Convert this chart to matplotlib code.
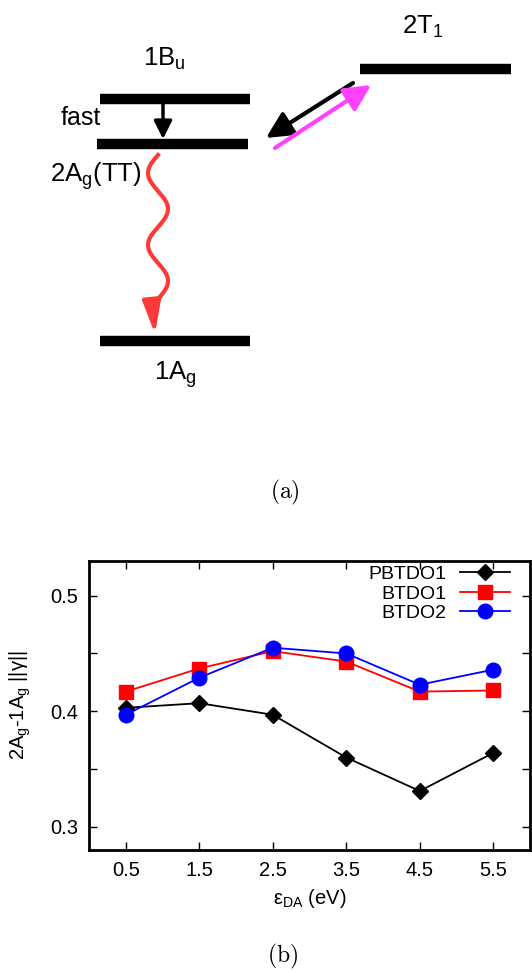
"""
Energy-level scheme (a) and 2Ag-1Ag ||gamma|| versus eps_DA (b)
"""

import matplotlib
matplotlib.use("Agg")
import matplotlib.pyplot as plt
import numpy as np

plt.rcParams['font.family'] = ['Liberation Sans', 'DejaVu Sans']

# ---- panel (a): level scheme (pixel units of the top half) ----
level_names = ['1B$_\\mathregular{u}$', '2A$_\\mathregular{g}$(TT)', '1A$_\\mathregular{g}$', '2T$_\\mathregular{1}$']
level_x0 = [100, 97, 100, 360]
level_x1 = [250, 248, 250, 511]
level_y = [99, 144, 341, 69]
label_x = [164, 96, 175, 423]
label_y = [66, 182, 379, 34]

# ---- panel (b): data ----
eps_da = [0.5, 1.5, 2.5, 3.5, 4.5, 5.5]
pbtdo1 = [0.403, 0.407, 0.397, 0.360, 0.331, 0.364]
btdo1 = [0.417, 0.437, 0.452, 0.443, 0.417, 0.418]
btdo2 = [0.397, 0.429, 0.455, 0.450, 0.423, 0.436]

W, H = 532, 971
fig = plt.figure(figsize=(W / 100, H / 100), dpi=100)

# full-figure canvas for the scheme and the captions
top = fig.add_axes([0, 0, 1, 1])
top.set_xlim(0, W)
top.set_ylim(H, 0)
top.axis('off')

for x0, x1, y in zip(level_x0, level_x1, level_y):
    top.plot([x0, x1], [y, y], color='black', lw=7.5, solid_capstyle='butt')

for name, x, y in zip(level_names, label_x, label_y):
    top.text(x, y, name, fontsize=18.5, ha='center', va='baseline')
top.text(81, 125, 'fast', fontsize=18, ha='center', va='baseline')

# fast internal conversion 1Bu -> 2Ag
top.annotate('', xy=(163, 139), xytext=(163, 104),
             arrowprops=dict(arrowstyle='-|>,head_length=0.6,head_width=0.3',
                             color='black', lw=2.5, mutation_scale=18,
                             shrinkA=0, shrinkB=0))
# TT <-> T1 + T1
top.annotate('', xy=(266, 138), xytext=(353, 83),
             arrowprops=dict(arrowstyle='-|>,head_length=0.8,head_width=0.4',
                             color='black', lw=3, mutation_scale=20,
                             shrinkA=0, shrinkB=0))
top.annotate('', xy=(371, 85), xytext=(275, 148),
             arrowprops=dict(arrowstyle='-|>,head_length=0.8,head_width=0.4',
                             color='#ff40ff', lw=3, mutation_scale=20,
                             shrinkA=0, shrinkB=0))

# wavy decay 2Ag -> 1Ag
wy = np.linspace(155, 306, 200)
wx = 158 - 10 * np.sin(2 * np.pi * (wy - 155) / 72)
top.plot(wx, wy, color='#ff3838', lw=3)
top.annotate('', xy=(155, 334), xytext=(wx[-1], wy[-1]),
             arrowprops=dict(arrowstyle='-|>,head_length=0.9,head_width=0.25',
                             color='#ff3838', lw=3, mutation_scale=22,
                             shrinkA=0, shrinkB=0))

top.text(285, 492, r'$\mathrm{(a)}$', fontsize=17, ha='center', va='center',
         math_fontfamily='cm')
top.text(283, 956, r'$\mathrm{(b)}$', fontsize=17, ha='center', va='center',
         math_fontfamily='cm')

# ---- panel (b) ----
left, right, ytop, ybot = 89, 530, 561, 850
ax = fig.add_axes([left / W, 1 - ybot / H, (right - left) / W, (ybot - ytop) / H])

ax.plot(eps_da, pbtdo1, color='black', marker='D', markersize=8.5, lw=1.3, label='PBTDO1')
ax.plot(eps_da, btdo1, color='#ff0000', marker='s', markersize=10, lw=1.3, label='BTDO1')
ax.plot(eps_da, btdo2, color='#0000ff', marker='o', markersize=10.5, lw=1.3, label='BTDO2')

ax.set_xlim(0, 6)
ax.set_ylim(0.28, 0.53)
ax.set_xticks(eps_da)
ax.set_xticklabels([f'{v:.1f}' for v in eps_da])
yt = [0.30, 0.35, 0.40, 0.45, 0.50]
ax.set_yticks(yt)
ax.set_yticklabels(['0.3', '', '0.4', '', '0.5'])
ax.tick_params(direction='in', length=6, width=1, top=True, right=True,
               labelsize=14.5, pad=8)
for sp in ax.spines.values():
    sp.set_linewidth(2)

ax.set_xlabel(r'$\mathregular{\varepsilon_{DA}}$ (eV)', fontsize=14.5, labelpad=5)
ax.set_ylabel(r'2A$_\mathregular{g}$-1A$_\mathregular{g}$ ||$\mathregular{\gamma}$||', fontsize=14.5, labelpad=12)

ax.legend(loc='upper right', bbox_to_anchor=(0.955, 0.985), frameon=False,
          markerfirst=False, numpoints=1, fontsize=14, handlelength=2.6,
          handletextpad=0.7, labelspacing=0.1, borderpad=0, borderaxespad=0)

fig.savefig('out.png', dpi=100)
